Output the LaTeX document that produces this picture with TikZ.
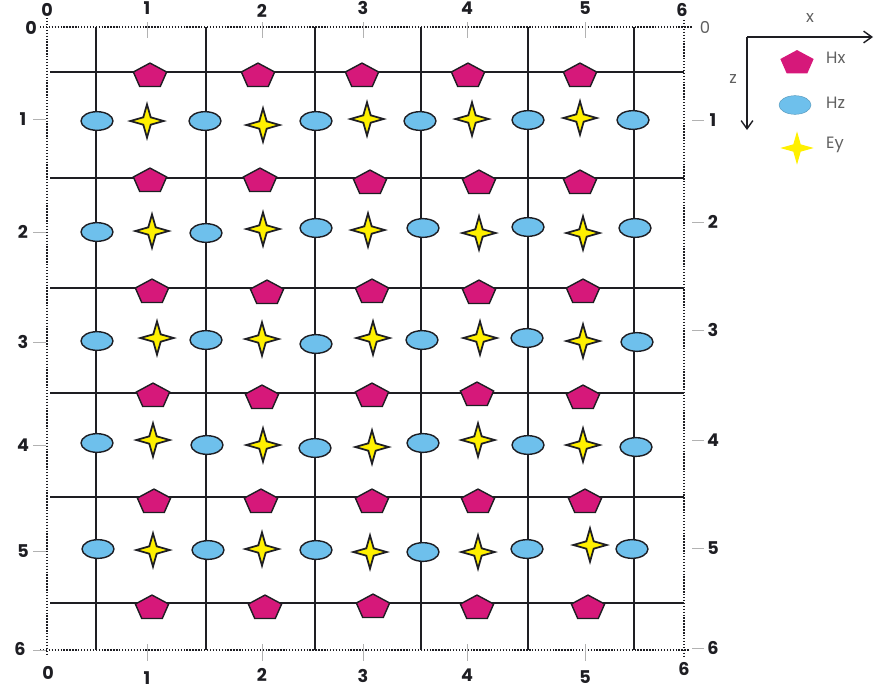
\documentclass[tikz,border=0pt]{standalone}
\usepackage{fontspec}
\setmainfont{Poppins}
\usetikzlibrary{shapes.geometric, arrows.meta}
\definecolor{hxpink}{RGB}{214,24,122}
\definecolor{hzblue}{RGB}{110,192,236}
\definecolor{eyyellow}{RGB}{255,240,0}
\definecolor{inkdark}{RGB}{30,30,35}
\tikzset{
    hxstyle/.style={regular polygon, regular polygon sides=5, draw=inkdark, fill=hxpink, minimum size=1.05cm, inner sep=0pt, yscale=0.74, line width=1.2pt},
    hzstyle/.style={ellipse, draw=inkdark, fill=hzblue, minimum width=0.96cm, minimum height=0.56cm, inner sep=0pt, line width=1.2pt},
    eystyle/.style={star, star points=4, star point ratio=3.2, draw=inkdark, fill=eyyellow, minimum size=1cm, inner sep=0pt, line width=1.5pt},
    gridline/.style={line width=1.8pt, color=inkdark},
    frameline/.style={line width=1.5pt, dash pattern=on 1.2pt off 1.3pt, color=inkdark},
    ticklbl/.style={font=\fontsize{15}{18}\selectfont\bfseries, text=inkdark, inner sep=0pt},
    tickmark/.style={line width=0.5pt, color=gray!60},
    axis/.style={-{Straight Barb[length=7pt, width=10pt]}, line width=1.2pt, color=inkdark},
    legendlbl/.style={font=\fontsize{14}{17}\selectfont, text=gray!75!black, inner sep=0pt}
}
\begin{document}
\begin{tikzpicture}[x=0.3mm, y=-0.3mm]
    \useasboundingbox (0,0) rectangle (874,691);

    % Dotted frame
    \draw[frameline] (40,27) -- (692,27);
    \draw[frameline] (47,18) -- (47,656);
    \draw[frameline] (40,650) -- (690,650);
    \draw[frameline] (684,20) -- (684,657);

    % Grid lines
    \foreach \gx in {96, 206, 315, 421, 528, 634}
        \draw[gridline] (\gx,27) -- (\gx,650);
    \foreach \gy in {72, 178, 288, 393, 497, 603}
        \draw[gridline] (50,\gy) -- (684,\gy);

    % Ticks
    \foreach \tx in {147, 262, 363, 467, 585}
        \draw[tickmark] (\tx,22) -- (\tx,38);
    \foreach \tx in {147, 262, 363, 467, 585}
        \draw[tickmark] (\tx,644) -- (\tx,661);
    \foreach \ty in {119, 232, 342, 445, 551, 650}
        \draw[tickmark] (33,\ty) -- (46,\ty);
    \foreach \ty in {120, 222, 330, 440, 548, 648}
        \draw[tickmark] (692,\ty) -- (704,\ty);

    % Axis numbers
    \foreach \n/\px/\py in {0/47/10, 1/147/8, 2/262/11, 3/363/8, 4/467/8, 5/585/8, 6/682/10}
        \node[ticklbl] (top\n) at (\px,\py) {\n};
    \foreach \n/\px/\py in {0/48/673, 1/147/678, 2/262/675, 3/363/676, 4/467/675, 5/585/677, 6/684/669}
        \node[ticklbl] (bot\n) at (\px,\py) {\n};
    \foreach \n/\px/\py in {0/31/28, 1/23/119, 2/23/232, 3/23/342, 4/23/445, 5/23/551, 6/20/649}
        \node[ticklbl] (lft\n) at (\px,\py) {\n};
    \node[legendlbl] (rgt0) at (705,27) {0};
    \foreach \n/\py in {1/120, 2/222, 3/330, 4/440, 5/548, 6/648}
        \node[ticklbl] (rgt\n) at (713,\py) {\n};

    % Hx nodes
    \foreach \px/\py [count=\i] in {150/76, 258/76, 362/76, 468/76, 580/76,
            150/181, 260/181, 370/183, 479/183, 580/183,
            152/292, 267/293, 372/292, 479/293, 583/292,
            153/396, 262/398, 372/396, 477/395, 583/398,
            154/502, 261/502, 372/502, 478/502, 585/502,
            152/608, 265/608, 373/607, 477/608, 588/608}
        \node[hxstyle] (hx\i) at (\px,\py) {};

    % Hz nodes
    \foreach \px/\py [count=\i] in {97/121, 205/121, 316/121, 420/121, 528/120, 633/120,
            97/232, 206/233, 316/228, 423/228, 528/227, 635/228,
            97/341, 206/340, 316/344, 422/340, 527/338, 637/342,
            97/443, 207/445, 315/448, 423/443, 528/445, 636/447,
            98/549, 208/550, 316/550, 423/552, 527/549, 632/549}
        \node[hzstyle] (hz\i) at (\px,\py) {};

    % Ey nodes
    \foreach \px/\py [count=\i] in {147/121, 263/125, 367/119, 472/119, 580/118,
            152/231, 263/229, 368/230, 479/233, 583/233,
            157/338, 262/339, 373/338, 480/338, 583/341,
            153/440, 263/445, 372/447, 478/440, 583/445,
            153/550, 262/549, 370/552, 478/552, 590/545}
        \node[eystyle] (ey\i) at (\px,\py) {};

    % Legend
    \coordinate (axo) at (747,37);
    \coordinate (axx) at (873,37);
    \coordinate (axz) at (747,130);
    \draw[axis] (axo) -- (axx);
    \draw[axis] (axo) -- (axz);
    \node[legendlbl] (xlbl) at (810,18) {x};
    \node[legendlbl] (zlbl) at (733,79) {z};
    \node[hxstyle, draw=none] (keyhx) at (797,63) {};
    \node[hzstyle, draw=hzblue!80!black, line width=0.4pt] (keyhz) at (795,105) {};
    \node[eystyle, draw=none] (keyey) at (797,148) {};
    \node[legendlbl, anchor=west] (hxlbl) at (826,58) {Hx};
    \node[legendlbl, anchor=west] (hzlbl) at (826,103) {Hz};
    \node[legendlbl, anchor=west] (eylbl) at (826,145) {Ey};
\end{tikzpicture}
\end{document}
